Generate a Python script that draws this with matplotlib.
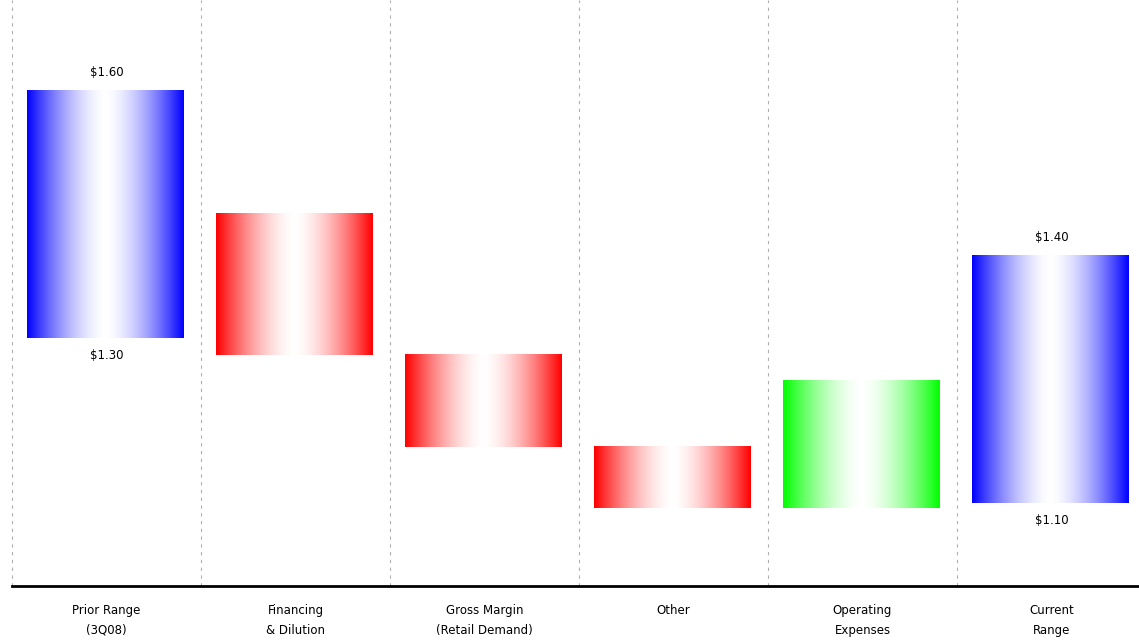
import matplotlib
matplotlib.use('Agg')
import matplotlib.pyplot as plt
import numpy as np

categories = ['Prior Range\n(3Q08)', 'Financing\n& Dilution', 'Gross Margin\n(Retail Demand)',
              'Other', 'Operating\nExpenses', 'Current\nRange']
lows = [1.30, 1.280, 1.1685, 1.094, 1.094, 1.10]
highs = [1.60, 1.451, 1.280, 1.1685, 1.249, 1.40]
colors = ['#0000ff', '#ff0000', '#ff0000', '#ff0000', '#00ff00', '#0000ff']
top_labels = {0: '$1.60', 5: '$1.40'}
bottom_labels = {0: '$1.30', 5: '$1.10'}

fig = plt.figure(figsize=(11.39, 6.44), dpi=100)
ax = fig.add_axes([12/1139, 1 - 586/644, 1127/1139, 586/644])

# horizontal gradient: colour at edges, white in the middle
xs = np.linspace(0, 1, 256)
w = np.abs(2*xs - 1) ** 1.6
width = 0.83

for i in range(len(categories)):
    rgb = np.array(matplotlib.colors.to_rgb(colors[i]))
    grad = (1 - w[:, None]) * np.ones(3) + w[:, None] * rgb
    img = grad[None, :, :]
    ax.imshow(img, extent=[i - 0.005 - width/2, i - 0.005 + width/2, lows[i], highs[i]],
              aspect='auto', interpolation='bilinear', zorder=2)

for i, t in top_labels.items():
    ax.annotate(t, (i, highs[i]), xytext=(0, 8.5), textcoords='offset points',
                ha='center', va='bottom', fontsize=8.5)
for i, t in bottom_labels.items():
    ax.annotate(t, (i, lows[i]), xytext=(0, -7.5), textcoords='offset points',
                ha='center', va='top', fontsize=8.5)

for k in range(len(categories)):
    ax.axvline(k - 0.5, color='#b0b0b0', linestyle=(0, (3, 4)), linewidth=0.8,
               clip_on=False, zorder=1)

ax.set_xlim(-0.5, 5.463)
ax.set_ylim(1.0, 1.71)
ax.set_xticks(range(len(categories)))
ax.set_xticklabels(categories, fontsize=8.5, linespacing=1.65)
ax.tick_params(axis='x', length=0, pad=13)
ax.set_yticks([])
for s in ['top', 'right', 'left']:
    ax.spines[s].set_visible(False)
ax.spines['bottom'].set_linewidth(2)

fig.savefig('out.png', dpi=100)
